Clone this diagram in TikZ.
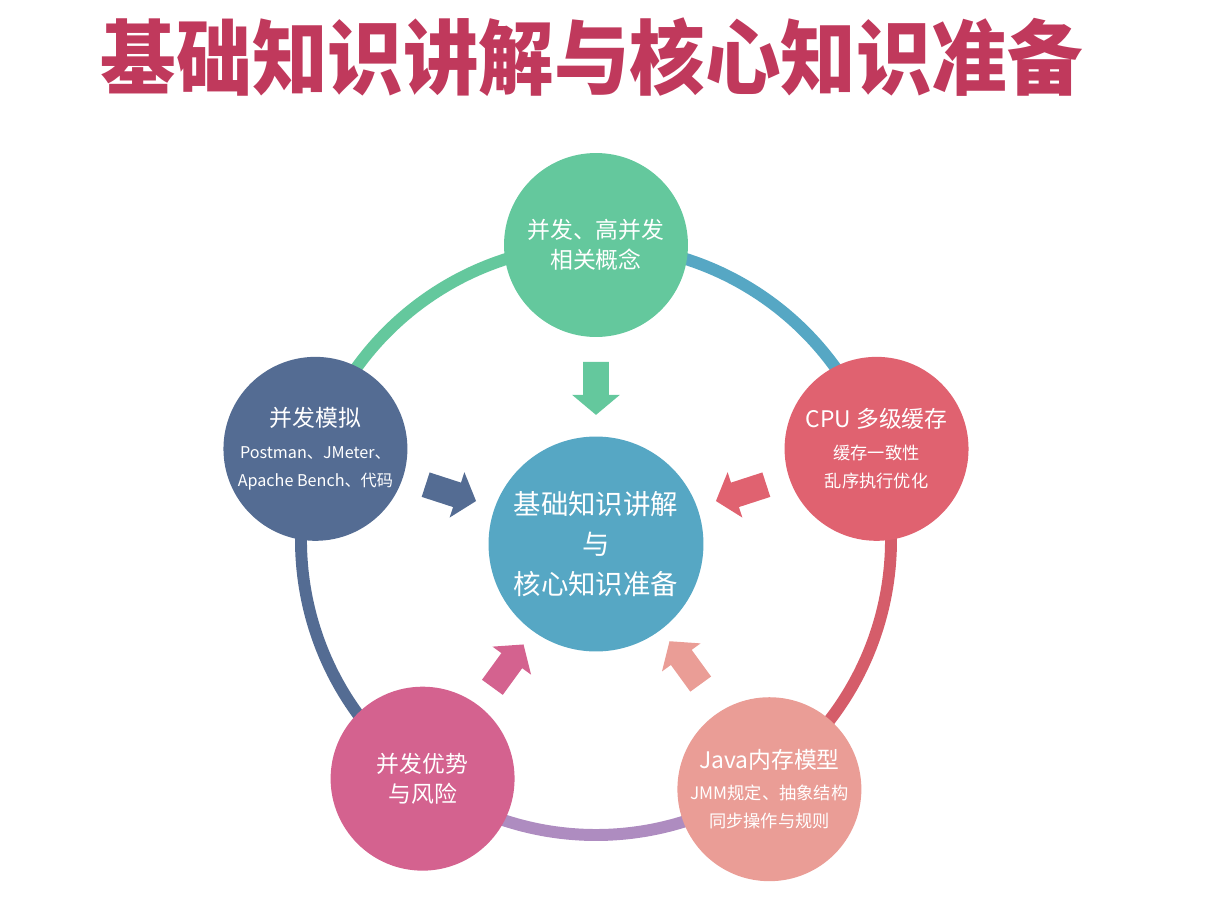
\documentclass[tikz,border=0pt]{standalone}
\usepackage{fontspec}
\newfontfamily\cjk{Noto Sans CJK SC}
\usetikzlibrary{shapes.arrows}
\definecolor{titlered}{HTML}{C0395C}
\definecolor{cgreen}{HTML}{64C89D}
\definecolor{cteal}{HTML}{56A7C4}
\definecolor{cnavy}{HTML}{546C93}
\definecolor{cred}{HTML}{E06270}
\definecolor{cpink}{HTML}{D4628F}
\definecolor{csalmon}{HTML}{EA9D96}
\definecolor{cpurple}{HTML}{AE8CC0}
\begin{document}
\begin{tikzpicture}[x=0.02cm,y=0.02cm,line cap=round,
	ball/.style={circle,inner sep=0pt,minimum size=3.68cm,text=white,align=center,font=\cjk\fontsize{13}{17}\selectfont},
	core/.style={ball,minimum size=4.3cm,font=\cjk\fontsize{15.6}{22.7}\selectfont},
	ring/.style={line width=6.8pt},
	push/.style={single arrow,draw=none,inner xsep=0pt,inner ysep=0.25cm,minimum height=1.06cm,minimum width=0.94cm,single arrow tip angle=100,single arrow head extend=0.22cm},
	small/.style={font=\cjk\fontsize{9.8}{14}\selectfont}]
	\useasboundingbox (-596,-357) rectangle (635,540);
	\node[text=titlered,font=\cjk\bfseries\fontsize{43}{43}\selectfont] (title) at (-4,483) {\scalebox{1}[1.08]{基础知识讲解与核心知识准备}};
	\path (90:295) coordinate (pt) (162:295) coordinate (pl) (234:295) coordinate (pbl) (306:295) coordinate (pbr) (18:295) coordinate (pr);
	\draw[ring,cgreen] (pt) arc[start angle=90,end angle=162,radius=295];
	\draw[ring,cnavy] (pl) arc[start angle=162,end angle=234,radius=295];
	\draw[ring,cpurple] (pbl) arc[start angle=234,end angle=306,radius=295];
	\draw[ring,cred!95!black] (pbr) arc[start angle=306,end angle=378,radius=295];
	\draw[ring,cteal] (pr) arc[start angle=18,end angle=90,radius=295];
	\node[ball,fill=cgreen] (top) at (pt) {并发、高并发\\相关概念};
	\node[ball,fill=cnavy] (left) at (pl) {并发模拟\\[1pt]{\fontsize{9.2}{13}\selectfont Postman、JMeter、}\\[-1pt]{\fontsize{9.2}{13}\selectfont Apache Bench、代码}};
	\node[ball,fill=cred] (right) at (pr) {CPU 多级缓存\\[1pt]{\fontsize{9.8}{13}\selectfont 缓存一致性}\\[-1pt]{\fontsize{9.8}{13}\selectfont 乱序执行优化}};
	\node[ball,fill=csalmon] (botright) at ([yshift=-6]pbr) {Java内存模型\\[1pt]{\fontsize{9.8}{13}\selectfont JMM规定、抽象结构}\\[-1pt]{\fontsize{9.8}{13}\selectfont 同步操作与规则}};
	\node[ball,fill=cpink] (botleft) at (pbl) {并发优势\\与风险};
	\node[core,fill=cteal] (core) at (0,-4) {基础知识讲解\\与\\核心知识准备};
	\node[push,fill=cgreen,rotate=-90] (atop) at (90:157) {};
	\node[push,fill=cnavy,rotate=-18] (aleft) at (162:158) {};
	\node[push,fill=cred,rotate=198] (aright) at (18:158) {};
	\node[push,fill=cpink,rotate=54] (abotleft) at (235:159) {};
	\node[push,fill=csalmon,rotate=126] (abotright) at (306:157) {};
\end{tikzpicture}
\end{document}
